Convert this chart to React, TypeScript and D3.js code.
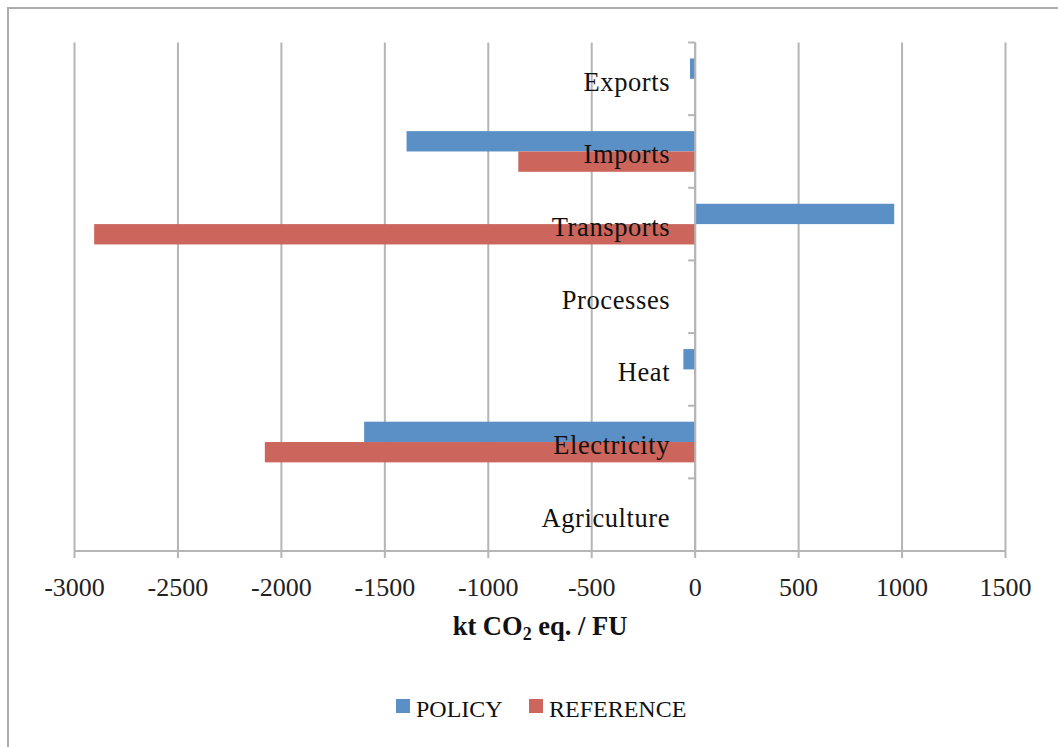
import React, { useEffect, useRef } from 'react';
import * as d3 from 'd3';

const categories: string[] = ["Exports", "Imports", "Transports", "Processes", "Heat", "Electricity", "Agriculture"];
const seriesNames: string[] = ["POLICY", "REFERENCE"];
const policyValues: number[] = [-25, -1395, 962, 0, -57, -1600, 0];
const referenceValues: number[] = [0, -855, -2905, 0, 0, -2080, 0];
const xTicks: number[] = [-3000, -2500, -2000, -1500, -1000, -500, 0, 500, 1000, 1500];

const colors: string[] = ["#5b90c6", "#cc655b"];

const App: React.FC = () => {
    const ref = useRef<SVGSVGElement | null>(null);

    useEffect(() => {
        const el = ref.current;
        if (!el) return;
        const svg = d3.select(el);
        svg.selectAll("*").remove();

        const width = 1058;
        const height = 747;
        const left = 74.5, right = 1005.5, top = 42.5, bottom = 551;
        const font = "'Liberation Serif', 'Times New Roman', serif";
        const gridColor = "#b5b5b5";

        svg.append("rect").attr("width", width).attr("height", height).attr("fill", "#fff");
        // outer chart frame (runs off the page on the right/bottom)
        svg.append("rect")
            .attr("x", 8).attr("y", 8)
            .attr("width", 1200).attr("height", 900)
            .attr("fill", "none")
            .attr("stroke", "#adadad")
            .attr("stroke-width", 2);

        const x = d3.scaleLinear().domain([-3000, 1500]).range([left, right]);
        const y = d3.scaleBand<string>().domain(categories).range([top, bottom]).padding(0);
        const ySub = d3.scaleBand<string>().domain(seriesNames)
            .range([0, y.bandwidth()]).paddingInner(0).paddingOuter(0.786);

        // gridlines
        svg.append("g")
            .selectAll("line")
            .data(xTicks)
            .enter()
            .append("line")
            .attr("x1", (d) => x(d)).attr("x2", (d) => x(d))
            .attr("y1", top).attr("y2", bottom + 7)
            .attr("stroke", gridColor)
            .attr("stroke-width", 2);

        // bottom axis line
        svg.append("line")
            .attr("x1", left).attr("x2", right)
            .attr("y1", bottom).attr("y2", bottom)
            .attr("stroke", gridColor).attr("stroke-width", 2);

        // bars
        const series = [policyValues, referenceValues];
        series.forEach((vals, si) => {
            svg.append("g")
                .selectAll("rect")
                .data(vals)
                .enter()
                .append("rect")
                .attr("x", (d) => x(Math.min(0, d)))
                .attr("width", (d) => Math.abs(x(d) - x(0)))
                .attr("y", (_, i) => (y(categories[i]) ?? 0) + (ySub(seriesNames[si]) ?? 0))
                .attr("height", ySub.bandwidth())
                .attr("fill", colors[si]);
        });

        // zero (category) axis with tick marks
        svg.append("line")
            .attr("x1", x(0)).attr("x2", x(0))
            .attr("y1", top).attr("y2", bottom)
            .attr("stroke", gridColor).attr("stroke-width", 2);
        const catEdges = categories.map((c) => y(c) ?? 0).concat([bottom]);
        svg.append("g")
            .selectAll("line")
            .data(catEdges)
            .enter()
            .append("line")
            .attr("x1", x(0) - 7).attr("x2", x(0))
            .attr("y1", (d) => d).attr("y2", (d) => d)
            .attr("stroke", gridColor).attr("stroke-width", 2);

        // category labels
        svg.append("g")
            .selectAll("text")
            .data(categories)
            .enter()
            .append("text")
            .attr("x", x(0) - 25)
            .attr("y", (d) => (y(d) ?? 0) + y.bandwidth() / 2 + 12)
            .attr("text-anchor", "end")
            .style("font-family", font)
            .style("font-size", "26.5px")
            .style("letter-spacing", "0.6px")
            .attr("fill", "#111")
            .text((d) => d);

        // x tick labels
        svg.append("g")
            .selectAll("text")
            .data(xTicks)
            .enter()
            .append("text")
            .attr("x", (d) => x(d))
            .attr("y", bottom + 45)
            .attr("text-anchor", "middle")
            .style("font-family", font)
            .style("font-size", "26px")
            .attr("fill", "#222")
            .text((d) => String(d));

        // axis title
        const title = svg.append("text")
            .attr("x", (left + right) / 2)
            .attr("y", 635)
            .attr("text-anchor", "middle")
            .style("font-family", font)
            .style("font-size", "26.5px")
            .style("font-weight", "bold")
            .attr("fill", "#111");
        title.append("tspan").text("kt CO");
        title.append("tspan").text("2").attr("dy", 5).style("font-size", "18px");
        title.append("tspan").text(" eq. / FU").attr("dy", -5);

        // legend
        const legendX = [396, 529];
        const legend = svg.append("g")
            .selectAll("g")
            .data(seriesNames)
            .enter()
            .append("g")
            .attr("transform", (_, i) => `translate(${legendX[i]}, 699)`);
        legend.append("rect")
            .attr("width", 14).attr("height", 14)
            .attr("fill", (_, i) => colors[i]);
        legend.append("text")
            .attr("x", 20).attr("y", 18)
            .style("font-family", font)
            .style("font-size", "24px")
            .attr("fill", "#111")
            .text((d) => d);
    }, []);

    return (
        <svg ref={ref} width={1058} height={747}
            style={{ position: 'absolute', left: 0, top: 0, display: 'block' }} />
    );
};

export default App;
